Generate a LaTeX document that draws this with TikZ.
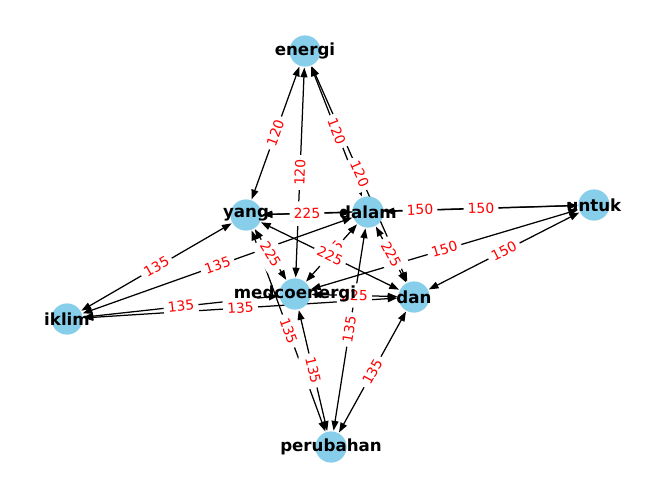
\documentclass[tikz,border=0pt]{standalone}
\usepackage{fontspec}
\setmainfont{DejaVu Sans}
\usetikzlibrary{arrows.meta}
\pgfdeclarelayer{bg}
\pgfdeclarelayer{fg}
\pgfsetlayers{bg,main,fg}
\definecolor{skyblue}{HTML}{87CEEB}
\tikzset{
  vtx/.style={circle, fill=skyblue, draw=none, minimum size=22.5pt, inner sep=0pt},
  vlabel/.style={font=\fontsize{12}{14}\selectfont\bfseries, text=black, inner sep=0pt},
  edge/.style={draw=black, line width=0.9pt, {Triangle[length=7pt,width=5pt]}-{Triangle[length=7pt,width=5pt]}, shorten <=0.5pt, shorten >=0.5pt},
  elabel/.style={midway, sloped, fill=white, rounded corners=3pt, inner xsep=3pt, inner ysep=3pt, text height=9.3pt, text depth=2.3pt, text=red, font=\fontsize{10}{12}\selectfont}
}
\begin{document}
\begin{tikzpicture}[x=0.72pt, y=-0.72pt]
\useasboundingbox (0,0) rectangle (660,499);
% nodes
\node[vtx] (energi) at (305,51) {};
\node[vtx] (yang) at (246,215) {};
\node[vtx] (dalam) at (368,212) {};
\node[vtx] (untuk) at (594,205) {};
\node[vtx] (medco) at (295,294) {};
\node[vtx] (dan) at (414,297) {};
\node[vtx] (iklim) at (67,319) {};
\node[vtx] (perubahan) at (331,447) {};
% edges
\begin{pgfonlayer}{bg}
\draw[edge] (energi) -- (yang);
\draw[edge] (energi) -- (medco);
\draw[edge] (energi) -- (dalam);
\draw[edge] (energi) -- (dan);
\draw[edge] (yang) -- (dalam);
\draw[edge] (yang) -- (medco);
\draw[edge] (dalam) -- (medco);
\draw[edge] (yang) -- (dan);
\draw[edge] (dalam) -- (dan);
\draw[edge] (medco) -- (dan);
\draw[edge] (yang) -- (untuk);
\draw[edge] (dalam) -- (untuk);
\draw[edge] (medco) -- (untuk);
\draw[edge] (dan) -- (untuk);
\draw[edge] (iklim) -- (yang);
\draw[edge] (iklim) -- (dalam);
\draw[edge] (iklim) -- (medco);
\draw[edge] (iklim) -- (dan);
\draw[edge] (perubahan) -- (yang);
\draw[edge] (perubahan) -- (medco);
\draw[edge] (perubahan) -- (dalam);
\draw[edge] (perubahan) -- (dan);
\end{pgfonlayer}
% edge labels
\path (energi) -- node[elabel] {120} (yang);
\path (energi) -- node[elabel] {120} (medco);
\path (energi) -- node[elabel] {120} (dalam);
\path (energi) -- node[elabel] {120} (dan);
\path (yang) -- node[elabel] {225} (dalam);
\path (yang) -- node[elabel] {225} (medco);
\path (dalam) -- node[elabel] {225} (medco);
\path (yang) -- node[elabel] {225} (dan);
\path (dalam) -- node[elabel] {225} (dan);
\path (medco) -- node[elabel] {225} (dan);
\path (yang) -- node[elabel] {150} (untuk);
\path (dalam) -- node[elabel] {150} (untuk);
\path (medco) -- node[elabel] {150} (untuk);
\path (dan) -- node[elabel] {150} (untuk);
\path (iklim) -- node[elabel] {135} (yang);
\path (iklim) -- node[elabel] {135} (dalam);
\path (iklim) -- node[elabel] {135} (medco);
\path (iklim) -- node[elabel] {135} (dan);
\path (perubahan) -- node[elabel] {135} (yang);
\path (perubahan) -- node[elabel] {135} (medco);
\path (perubahan) -- node[elabel] {135} (dalam);
\path (perubahan) -- node[elabel] {135} (dan);
% node labels
\begin{pgfonlayer}{fg}
\node[vlabel] (lenergi) at (energi) {energi};
\node[vlabel] (lyang) at (yang) {yang};
\node[vlabel] (ldalam) at (dalam) {dalam};
\node[vlabel] (luntuk) at (untuk) {untuk};
\node[vlabel] (lmedco) at (medco) {medcoenergi};
\node[vlabel] (ldan) at (dan) {dan};
\node[vlabel] (liklim) at (iklim) {iklim};
\node[vlabel] (lperubahan) at (perubahan) {perubahan};
\end{pgfonlayer}
\end{tikzpicture}
\end{document}
